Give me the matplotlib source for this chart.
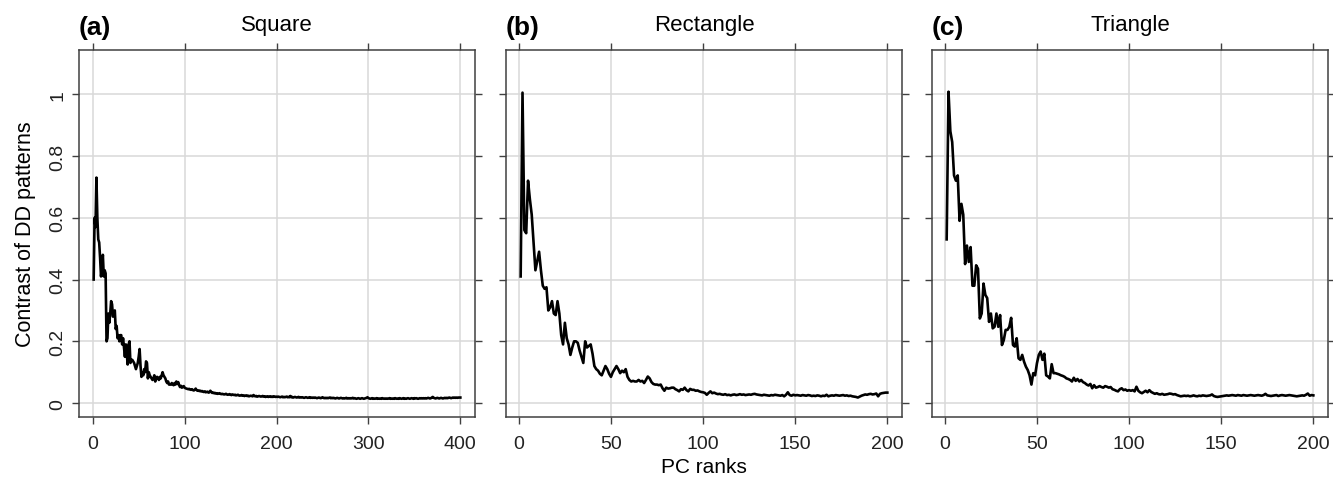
import matplotlib
matplotlib.use("Agg")
import matplotlib.pyplot as plt
import numpy as np

plt.rcParams['font.family'] = ['Liberation Sans', 'DejaVu Sans']

panel_tags = ['(a)', '(b)', '(c)']
panel_names = ['Square', 'Rectangle', 'Triangle']
x_ticks = [[0, 100, 200, 300, 400], [0, 50, 100, 150, 200], [0, 50, 100, 150, 200]]
y_ticks = [0, 0.2, 0.4, 0.6, 0.8, 1.0]
y_tick_labels = ['0', '0.2', '0.4', '0.6', '0.8', '1']

# contrast per PC rank (rank 1..N)
square = [
    0.40, 0.60, 0.57, 0.73, 0.60, 0.53, 0.52, 0.47, 0.41, 0.44,
    0.48, 0.41, 0.43, 0.42, 0.20, 0.21, 0.29, 0.26, 0.29, 0.33,
    0.32, 0.28, 0.29, 0.30, 0.24, 0.25, 0.21, 0.22, 0.20, 0.22,
    0.22, 0.19, 0.21, 0.18, 0.15, 0.19, 0.16, 0.125, 0.19, 0.20,
    0.13, 0.14, 0.14, 0.135, 0.13, 0.12, 0.11, 0.12, 0.13, 0.15,
    0.175, 0.12, 0.085, 0.10, 0.09, 0.11, 0.10, 0.135, 0.13, 0.08,
    0.10, 0.09, 0.085, 0.08, 0.075, 0.08, 0.09, 0.07, 0.08, 0.085,
    0.08, 0.075, 0.085, 0.08, 0.09, 0.10, 0.09, 0.085, 0.08, 0.07,
    0.065, 0.07, 0.06, 0.06, 0.06, 0.065, 0.06, 0.058, 0.065, 0.06,
    0.07, 0.062, 0.068, 0.058, 0.052, 0.056, 0.05, 0.052, 0.055, 0.05,
    0.048, 0.047, 0.046, 0.045, 0.046, 0.044, 0.043, 0.045, 0.042, 0.041,
    0.043, 0.047, 0.042, 0.040, 0.041, 0.039, 0.040, 0.038, 0.039, 0.037,
    0.036, 0.038, 0.035, 0.036, 0.037, 0.034, 0.035, 0.040, 0.036, 0.033,
    0.034, 0.032, 0.033, 0.031, 0.032, 0.030, 0.031, 0.032, 0.030, 0.029,
    0.030, 0.029, 0.028, 0.029, 0.030, 0.028, 0.027, 0.028, 0.029, 0.027,
    0.026, 0.028, 0.027, 0.026, 0.027, 0.025, 0.026, 0.027, 0.025, 0.024,
    0.025, 0.026, 0.024, 0.025, 0.023, 0.024, 0.025, 0.023, 0.024, 0.022,
    0.023, 0.024, 0.023, 0.022, 0.026, 0.023, 0.022, 0.023, 0.021, 0.022,
    0.023, 0.022, 0.021, 0.022, 0.023, 0.021, 0.022, 0.020, 0.021, 0.022,
    0.020, 0.021, 0.022, 0.020, 0.021, 0.020, 0.022, 0.021, 0.020, 0.021,
    0.020, 0.021, 0.020, 0.019, 0.020, 0.021, 0.019, 0.020, 0.019, 0.020,
    0.021, 0.019, 0.020, 0.019, 0.023, 0.019, 0.020, 0.018, 0.019, 0.020,
    0.019, 0.018, 0.019, 0.020, 0.018, 0.019, 0.018, 0.019, 0.018, 0.017,
    0.018, 0.019, 0.018, 0.017, 0.018, 0.019, 0.017, 0.018, 0.017, 0.018,
    0.017, 0.018, 0.017, 0.016, 0.017, 0.018, 0.017, 0.016, 0.017, 0.019,
    0.017, 0.016, 0.017, 0.016, 0.017, 0.016, 0.017, 0.018, 0.016, 0.017,
    0.016, 0.017, 0.016, 0.015, 0.016, 0.017, 0.016, 0.015, 0.016, 0.017,
    0.016, 0.015, 0.016, 0.015, 0.016, 0.017, 0.015, 0.016, 0.015, 0.016,
    0.015, 0.016, 0.017, 0.015, 0.016, 0.015, 0.014, 0.015, 0.016, 0.015,
    0.014, 0.015, 0.016, 0.015, 0.014, 0.015, 0.016, 0.017, 0.019, 0.016,
    0.015, 0.014, 0.015, 0.016, 0.014, 0.015, 0.014, 0.015, 0.016, 0.014,
    0.015, 0.014, 0.015, 0.014, 0.016, 0.015, 0.014, 0.015, 0.014, 0.015,
    0.014, 0.015, 0.016, 0.014, 0.015, 0.014, 0.015, 0.014, 0.016, 0.015,
    0.014, 0.015, 0.014, 0.016, 0.015, 0.014, 0.015, 0.016, 0.014, 0.015,
    0.014, 0.015, 0.016, 0.015, 0.014, 0.015, 0.016, 0.015, 0.014, 0.016,
    0.015, 0.016, 0.015, 0.014, 0.015, 0.016, 0.015, 0.016, 0.015, 0.016,
    0.015, 0.016, 0.015, 0.016, 0.017, 0.016, 0.015, 0.016, 0.018, 0.020,
    0.017, 0.016, 0.015, 0.016, 0.017, 0.016, 0.015, 0.016, 0.017, 0.016,
    0.015, 0.016, 0.017, 0.016, 0.017, 0.016, 0.017, 0.018, 0.017, 0.016,
    0.017, 0.018, 0.017, 0.018, 0.017, 0.018, 0.017, 0.018, 0.018, 0.018,
]

rectangle = [
    0.41, 1.005, 0.56, 0.55, 0.72, 0.66, 0.61, 0.52, 0.43, 0.46,
    0.49, 0.43, 0.38, 0.37, 0.375, 0.30, 0.31, 0.33, 0.29, 0.285,
    0.33, 0.29, 0.22, 0.19, 0.26, 0.21, 0.19, 0.156, 0.18, 0.20,
    0.20, 0.195, 0.17, 0.15, 0.13, 0.20, 0.18, 0.185, 0.19, 0.16,
    0.12, 0.11, 0.105, 0.095, 0.09, 0.105, 0.12, 0.11, 0.095, 0.085,
    0.10, 0.11, 0.12, 0.11, 0.097, 0.105, 0.10, 0.11, 0.085, 0.075,
    0.07, 0.072, 0.07, 0.07, 0.075, 0.07, 0.072, 0.065, 0.075, 0.086,
    0.08, 0.068, 0.062, 0.06, 0.06, 0.058, 0.06, 0.048, 0.04, 0.05,
    0.047, 0.048, 0.05, 0.05, 0.045, 0.042, 0.038, 0.045, 0.043, 0.05,
    0.042, 0.038, 0.046, 0.043, 0.043, 0.04, 0.041, 0.038, 0.036, 0.035,
    0.033, 0.027, 0.033, 0.038, 0.032, 0.034, 0.031, 0.029, 0.030, 0.028,
    0.027, 0.029, 0.026, 0.027, 0.025, 0.027, 0.028, 0.026, 0.027, 0.029,
    0.027, 0.028, 0.026, 0.027, 0.028, 0.027, 0.029, 0.030, 0.028, 0.027,
    0.026, 0.025, 0.027, 0.026, 0.025, 0.024, 0.026, 0.025, 0.027, 0.026,
    0.025, 0.024, 0.026, 0.022, 0.027, 0.035, 0.026, 0.024, 0.027, 0.025,
    0.026, 0.025, 0.024, 0.026, 0.025, 0.024, 0.026, 0.025, 0.023, 0.024,
    0.023, 0.025, 0.024, 0.022, 0.024, 0.023, 0.027, 0.022, 0.024, 0.025,
    0.024, 0.026, 0.025, 0.024, 0.025, 0.026, 0.024, 0.025, 0.023, 0.024,
    0.022, 0.021, 0.020, 0.018, 0.021, 0.024, 0.026, 0.028, 0.027, 0.029,
    0.030, 0.028, 0.029, 0.031, 0.022, 0.030, 0.032, 0.033, 0.034, 0.034,
]

triangle = [
    0.53, 1.008, 0.88, 0.845, 0.737, 0.72, 0.737, 0.59, 0.645, 0.61,
    0.45, 0.51, 0.457, 0.505, 0.38, 0.38, 0.446, 0.435, 0.274, 0.29,
    0.387, 0.35, 0.34, 0.263, 0.29, 0.242, 0.247, 0.29, 0.247, 0.285,
    0.188, 0.204, 0.237, 0.237, 0.247, 0.276, 0.188, 0.183, 0.21, 0.145,
    0.14, 0.156, 0.134, 0.118, 0.107, 0.09, 0.06, 0.097, 0.09, 0.129,
    0.156, 0.167, 0.14, 0.16, 0.09, 0.086, 0.08, 0.126, 0.097, 0.097,
    0.095, 0.093, 0.09, 0.088, 0.085, 0.08, 0.078, 0.075, 0.07, 0.082,
    0.072, 0.078, 0.07, 0.075, 0.068, 0.065, 0.06, 0.057, 0.062, 0.048,
    0.058, 0.05, 0.052, 0.055, 0.052, 0.05, 0.055, 0.053, 0.05, 0.052,
    0.045, 0.043, 0.04, 0.038, 0.045, 0.048, 0.042, 0.044, 0.04, 0.042,
    0.04, 0.042, 0.038, 0.053, 0.04, 0.035, 0.032, 0.036, 0.04, 0.035,
    0.042, 0.036, 0.033, 0.030, 0.032, 0.029, 0.028, 0.030, 0.027, 0.028,
    0.029, 0.031, 0.030, 0.028, 0.029, 0.026, 0.024, 0.022, 0.023, 0.024,
    0.023, 0.024, 0.022, 0.023, 0.025, 0.023, 0.022, 0.024, 0.023, 0.025,
    0.024, 0.023, 0.024, 0.025, 0.028, 0.023, 0.021, 0.020, 0.021, 0.022,
    0.023, 0.024, 0.025, 0.024, 0.025, 0.026, 0.025, 0.024, 0.026, 0.025,
    0.024, 0.026, 0.025, 0.024, 0.025, 0.026, 0.025, 0.024, 0.025, 0.026,
    0.025, 0.024, 0.026, 0.030, 0.025, 0.024, 0.023, 0.024, 0.025, 0.026,
    0.023, 0.025, 0.026, 0.025, 0.024, 0.025, 0.026, 0.025, 0.024, 0.023,
    0.022, 0.023, 0.024, 0.025, 0.024, 0.027, 0.031, 0.024, 0.026, 0.025,
]

series = [square, rectangle, triangle]

fig = plt.figure(figsize=(13.33, 4.81), dpi=100)
lefts = [79 / 1333, 506 / 1333, 932 / 1333]
width = 396 / 1333
bottom = 1 - 417.7 / 481
height = (417.7 - 50.7) / 481
frame_col = '#404040'

for i, ys in enumerate(series):
    ax = fig.add_axes([lefts[i], bottom, width, height])
    ranks = np.arange(1, len(ys) + 1)
    n = len(ys)
    pad = (n - 1) * 0.04
    ax.set_xlim(1 - pad, n + pad)
    ax.set_ylim(-0.044, 1.144)
    ax.set_xticks(x_ticks[i])
    ax.set_yticks(y_ticks)
    ax.grid(True, color='#d9d9d9', linewidth=1.1)
    ax.set_axisbelow(True)
    ax.plot(ranks, ys, color='black', linewidth=1.9, zorder=3)
    for sp in ax.spines.values():
        sp.set_color(frame_col)
        sp.set_linewidth(1.1)
    ax.tick_params(direction='out', length=5, width=1.0, color=frame_col,
                   top=True, right=True, labelsize=14, labelcolor='#222222')
    ax.tick_params(axis='x', pad=8)
    ax.tick_params(axis='y', pad=4)
    if i == 0:
        ax.set_yticklabels(y_tick_labels, rotation=90, va='center')
        ax.set_ylabel('Contrast of DD patterns', fontsize=15.5, labelpad=10)
    else:
        ax.tick_params(labelleft=False)
    if i == 1:
        ax.set_xlabel('PC ranks', fontsize=15, labelpad=4)
    ax.set_title(panel_names[i], fontsize=16, pad=14)
    ax.text(0.0, 1.03, panel_tags[i], transform=ax.transAxes, fontsize=19,
            fontweight='bold', ha='left', va='bottom')

fig.savefig('out.png', dpi=100)
